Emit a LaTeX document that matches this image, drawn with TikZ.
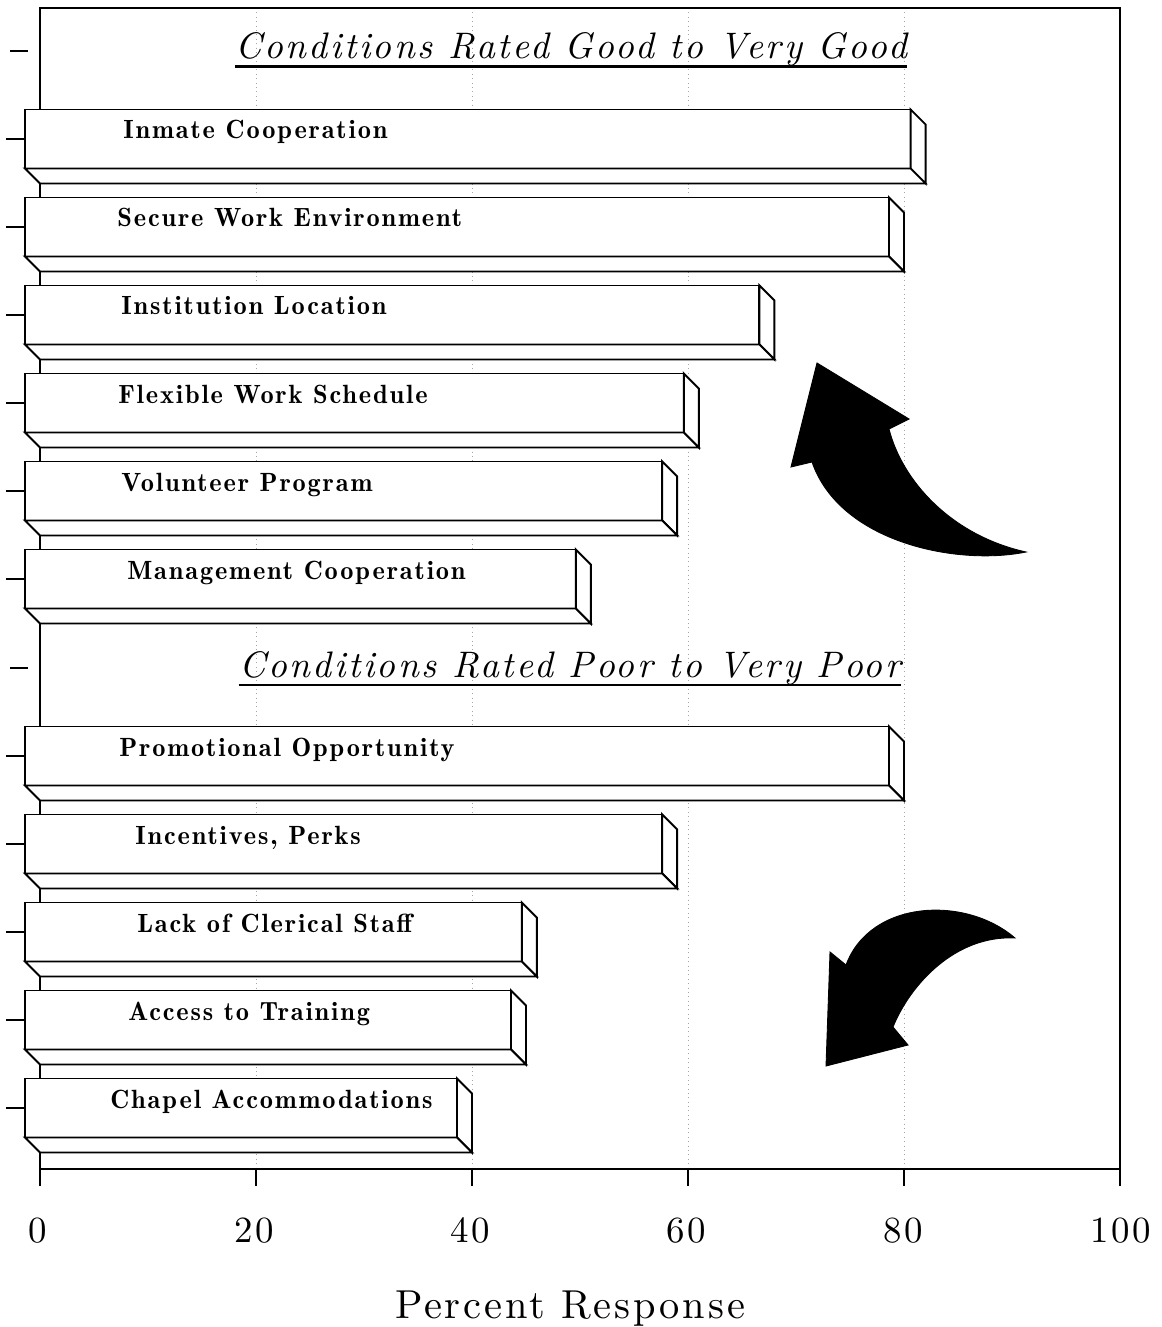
\documentclass[tikz,border=0pt]{standalone}
\usepackage{fontspec}
\setmainfont{lmroman10-regular.otf}[ItalicFont=lmroman10-italic.otf]
\newfontfamily\barfont{lmromandemi10-regular.otf}[LetterSpace=7]
\newfontfamily\titlefont{lmroman10-italic.otf}[LetterSpace=7]
\newfontfamily\axisfont{lmroman10-regular.otf}[LetterSpace=7]
\usepackage{tikz}
\usetikzlibrary{positioning}

\tikzset{
	barface/.style={fill=white, draw=black, line width=1.1pt, line join=miter},
	barlabel/.style={anchor=base west, inner sep=0pt, font=\barfont\fontsize{15}{17}\selectfont},
	charttitle/.style={anchor=base, inner sep=0pt, font=\titlefont\fontsize{21}{25}\selectfont},
	titleline/.style={line width=1.6pt},
	ticklabel/.style={anchor=base, inner sep=0pt, font=\axisfont\fontsize{21}{24}\selectfont},
	axisline/.style={line width=1.1pt},
	gridline/.style={black!35, dotted, line width=0.5pt},
	bigarrow/.style={fill=black, draw=black, line width=0.5pt}
}

% one 3-d bar: name, slot centre, value, label x, label
\newcommand{\condbar}[5]{%
	\pgfmathsetmacro{\barback}{40+10.8*#3}%
	\pgfmathsetmacro{\barfront}{\barback-15}%
	\pgfmathsetmacro{\bartop}{#2-29.5}%
	\pgfmathsetmacro{\barbot}{#2+29.5}%
	\draw[axisline] (6,#2) -- (25,#2);
	\filldraw[barface] (25,\bartop) rectangle (\barfront,\barbot);
	\filldraw[barface] (\barfront,\bartop) -- (\barback,\bartop+15) -- (\barback,\barbot+15) -- (\barfront,\barbot) -- cycle;
	\filldraw[barface] (25,\barbot) -- (\barfront,\barbot) -- (\barback,\barbot+15) -- (40,\barbot+15) -- cycle;
	\node[barlabel] (#1) at (#4,#2) {#5};
}

\begin{document}
\begin{tikzpicture}[x=0.02cm, y=-0.02cm]
	\useasboundingbox (0,0) rectangle (1161,1327);
	% grid and frame
	\draw[gridline] (256,8) -- (256,1169);
	\draw[gridline] (472,8) -- (472,1169);
	\draw[gridline] (688,8) -- (688,1169);
	\draw[gridline] (904,8) -- (904,1169);
	\draw[axisline] (40,1169) -- (40,8) -- (1120,8) -- (1120,1169) -- cycle;
	\draw[axisline] (10,51) -- (28,51);
	\draw[axisline] (10,668) -- (28,668);

	% good to very good
	\node[charttitle] (goodtitle) at (571,59) {Conditions Rated Good to Very Good};
	\draw[titleline] ([yshift=-4.5pt]goodtitle.base west) -- ([yshift=-4.5pt]goodtitle.base east);
	\condbar{inmate}{139}{82}{123}{Inmate Cooperation}
	\condbar{secure}{227}{80}{117}{Secure Work Environment}
	\condbar{location}{315}{68}{121}{Institution Location}
	\condbar{flexible}{403}{61}{118}{Flexible Work Schedule}
	\condbar{volunteer}{491}{59}{121}{Volunteer Program}
	\condbar{management}{579}{51}{127}{Management Cooperation}

	% poor to very poor
	\node[charttitle] (poortitle) at (570,677) {Conditions Rated Poor to Very Poor};
	\draw[titleline] ([yshift=-4.5pt]poortitle.base west) -- ([yshift=-4.5pt]poortitle.base east);
	\condbar{promotion}{756}{80}{119}{Promotional Opportunity}
	\condbar{incentives}{844}{59}{135}{Incentives, Perks}
	\condbar{clerical}{932}{46}{137}{Lack of Clerical Staff}
	\condbar{training}{1020}{45}{128}{Access to Training}
	\condbar{chapel}{1108}{40}{110}{Chapel Accommodations}

	% x axis
	\draw[axisline] (40,1169) -- (40,1186);
	\draw[axisline] (256,1169) -- (256,1186);
	\draw[axisline] (472,1169) -- (472,1186);
	\draw[axisline] (688,1169) -- (688,1186);
	\draw[axisline] (904,1169) -- (904,1186);
	\draw[axisline] (1120,1169) -- (1120,1186);
	\node[ticklabel] (tick0) at (38,1242) {0};
	\node[ticklabel] (tick20) at (254,1242) {20};
	\node[ticklabel] (tick40) at (470,1242) {40};
	\node[ticklabel] (tick60) at (686,1242) {60};
	\node[ticklabel] (tick80) at (903,1242) {80};
	\node[ticklabel] (tick100) at (1121,1242) {100};
	\node[ticklabel, font=\axisfont\fontsize{23}{26}\selectfont] (xlabel) at (570,1318) {Percent Response};

	% curved arrows
	\filldraw[bigarrow] (817,363) -- (909,419) -- (889,429) .. controls (902,480) and (950,535) .. (1026,552)
		.. controls (958,566) and (840,543) .. (812,462) -- (791,467) -- cycle;
	\filldraw[bigarrow] (1015,938) .. controls (965,895) and (870,900) .. (846,965) -- (830,952) -- (826,1066)
		-- (908,1045) -- (893,1027) .. controls (910,985) and (955,935) .. (1015,938) -- cycle;
\end{tikzpicture}
\end{document}
